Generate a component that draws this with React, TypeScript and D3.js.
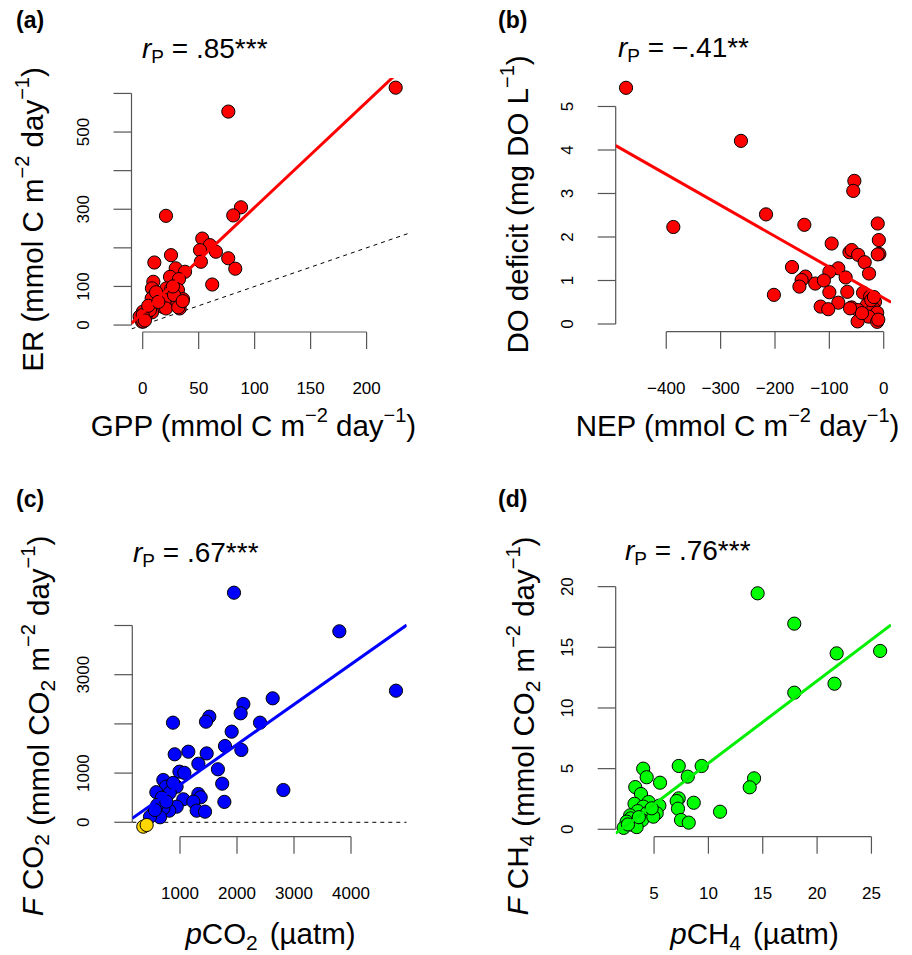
import React from "react";
import * as d3 from "d3";

// ---------- Panel (a): GPP vs ER ----------
const gppA = [226, 76.5, 87.8, 80.9, 20.8, 53.2, 60.1, 51.2, 65.4, 52, 76.4, 82.7, 62.1, 25.3, 10.4, 29.5, 37.8, 24.4, 9.5, 32.4, 8.3, 21.1, 25.5, 31.5, 9.2, 15.2, 22.6, 36, 11.3, 24.1, 30.9, 18.1, 33, 4.7, 0.3, 8.3, -2.7, 1.8, -0.6, 3.2, 19.6, 28, 8, 6.5, 0, 0.5, 20.8, 31.8, 12, 27, 5, 2, 14, 35.7];
const erA = [615, 553, 305, 284, 283, 224, 207, 194, 190, 164, 173, 146, 105, 181, 162, 147, 138, 125, 112, 119, 95, 95, 93, 91, 73, 73, 76, 67, 54, 54, 52, 47, 43, 39, 35, 33, 22, 17, 9, 28, 65, 78, 69, 39, 26, 9, 43, 46, 85, 100, 50, 12, 60, 62];
const fitA = [31.7, 2.73];

// ---------- Panel (b): NEP vs DO deficit ----------
const nepB = [-474, -262.6, -387, -216.5, -146, -202, -54, -56, -11, -9, -8, -11, -95.7, -168.7, -63, -59, -47, -35, -27, -83.5, -100, -70, -144, -151, -155, -126, -110, -100, -67, -38, -25, -31, -16, -83.5, -116, -102, -59, -47, -19, -12, -28, -48, -12, -23, -10, -40, -62, -18];
const doB = [5.43, 4.21, 2.23, 2.52, 2.28, 0.67, 3.29, 3.06, 2.31, 1.93, 1.61, 1.6, 1.85, 1.31, 1.65, 1.7, 1.59, 1.42, 1.16, 1.28, 1.2, 1.07, 1.09, 1.01, 0.86, 0.93, 1.0, 0.73, 0.74, 0.72, 0.63, 0.44, 0.51, 0.49, 0.4, 0.34, 0.38, 0.32, 0.36, 0.26, 0.17, 0.06, 0.05, 0.55, 0.1, 0.25, 0.36, 0.62];
const fitB = [0.595, -0.00711];

// ---------- Panel (c): pCO2 vs F CO2 ----------
const pco2C = [1947, 3795, 4789, 2626, 2111, 2064, 2404, 1514, 1456, 877, 1906, 1789, 2076, 1146, 1468, 907, 1322, 1665, 990, 1076, 1740, 2813, 1778, 707, 940, 754, 585, 1322, 1363, 1058, 1234, 942, 1292, 1439, 812, 707, 532, 649, 474, 820, 680, 880, 600, 760, 560];
const fco2C = [4667, 3882, 2675, 2520, 2404, 2215, 2025, 2147, 2045, 2025, 1842, 1551, 1470, 1435, 1400, 1382, 1190, 1077, 1029, 1005, 785, 656, 415, 860, 724, 724, 612, 575, 508, 467, 419, 317, 236, 216, 236, 284, 183, 102, 114, 600, 500, 800, 350, 420, 250];
const pco2Neg = [356, 415];
const fco2Neg = [-89, -55];
const fitC = [-52, 0.816];

// ---------- Panel (d): pCH4 vs F CH4 ----------
const pch4D = [14.53, 17.9, 21.8, 25.8, 21.6, 17.9, 14.2, 13.8, 11.07, 9.38, 7.27, 8.1, 8.65, 7.27, 7.08, 7.2, 7.48, 8.19, 4.0, 4.32, 5.55, 3.27, 3.8, 3.2, 4.5, 5.49, 5.24, 4.01, 3.5, 2.8, 4.32, 3.9, 2.85, 2.48, 3.09, 2.2, 3.4, 4.93, 4.78, 3.6, 2.6];
const fch4D = [19.45, 16.95, 14.5, 14.7, 12.0, 11.26, 4.2, 3.46, 1.45, 5.22, 5.22, 4.34, 2.19, 2.55, 2.33, 1.7, 0.77, 0.55, 5.0, 4.29, 3.84, 3.48, 2.91, 2.1, 2.25, 1.95, 1.32, 1.87, 1.5, 1.15, 1.32, 0.75, 0.9, 0.63, 0.35, 0.12, 0.18, 1.04, 1.73, 1.0, 0.4];
const fitD = [-1.33, 0.678];

// ---------- Ticks ----------
const xTicksA = [0, 50, 100, 150, 200];
const yTicksA = [0, 100, 200, 300, 400, 500, 600];
const yLabelsA = [0, 100, 300, 500];
const xTicksB = [-400, -300, -200, -100, 0];
const yTicksB = [0, 1, 2, 3, 4, 5];
const yLabelsB = [0, 1, 2, 3, 4, 5];
const xTicksC = [1000, 2000, 3000, 4000];
const yTicksC = [0, 1000, 2000, 3000, 4000];
const yLabelsC = [0, 1000, 3000];
const xTicksD = [5, 10, 15, 20, 25];
const yTicksD = [0, 5, 10, 15, 20];
const yLabelsD = [0, 5, 10, 15, 20];

const FONT = "'Liberation Sans', Arial, Helvetica, sans-serif";
const AXIS = "#555";
const TFS = 29.5; // axis title font size
const SUP = 20;
const SUPDY = 14;
const SUB = 21;

const fmt = (v: number) => (v < 0 ? "\u2212" + Math.abs(v) : String(v));

type PanelProps = {
  id: string;
  xs: number[];
  ys: number[];
  fill: string;
  extraX?: number[];
  extraY?: number[];
  extraFill?: string;
  xDomain: [number, number];
  xRange: [number, number];
  yDomain: [number, number];
  yRange: [number, number];
  xTicks: number[];
  yTicks: number[];
  yLabels: number[];
  fit: number[];
  lineColor: string;
  dashed: "identity" | "zero" | "none";
};

function Panel(p: PanelProps) {
  const x = d3.scaleLinear().domain(p.xDomain).range(p.xRange);
  const y = d3.scaleLinear().domain(p.yDomain).range(p.yRange);
  const left = p.xRange[0];
  const right = p.xRange[1];
  const bottom = p.yRange[0];
  const top = p.yRange[1];
  const [x0, x1] = p.xDomain;
  const lineGen = d3
    .line<number>()
    .x((d) => x(d))
    .y((d) => y(p.fit[0] + p.fit[1] * d));
  const dashGen = d3
    .line<number>()
    .x((d) => x(d))
    .y((d) => y(p.dashed === "identity" ? d : 0));
  const clipId = "clip-" + p.id;
  const yt = p.yTicks;
  const xt = p.xTicks;
  return (
    <g>
      <defs>
        <clipPath id={clipId}>
          <rect x={left} y={top} width={right - left} height={bottom - top} />
        </clipPath>
      </defs>
      {/* y axis */}
      <line x1={left} x2={left} y1={y(yt[0])} y2={y(yt[yt.length - 1])} stroke={AXIS} strokeWidth={1.2} />
      {yt.map((t) => (
        <line key={"yt" + t} x1={left - 18} x2={left} y1={y(t)} y2={y(t)} stroke={AXIS} strokeWidth={1.2} />
      ))}
      {p.yLabels.map((t) => (
        <text
          key={"yl" + t}
          transform={`translate(${left - 43},${y(t)}) rotate(-90)`}
          textAnchor="middle"
          fontSize={17}
          fontFamily={FONT}
          fill="#000"
        >
          {fmt(t)}
        </text>
      ))}
      {/* x axis */}
      <line x1={x(xt[0])} x2={x(xt[xt.length - 1])} y1={bottom} y2={bottom} stroke={AXIS} strokeWidth={1.2} />
      {xt.map((t) => (
        <line key={"xt" + t} x1={x(t)} x2={x(t)} y1={bottom} y2={bottom + 17} stroke={AXIS} strokeWidth={1.2} />
      ))}
      {xt.map((t) => (
        <text key={"xl" + t} x={x(t)} y={bottom + 62} textAnchor="middle" fontSize={17} fontFamily={FONT} fill="#000">
          {fmt(t)}
        </text>
      ))}
      {/* dashed reference */}
      {p.dashed !== "none" ? (
        <path d={dashGen([x0, x1]) || ""} stroke="#000" strokeWidth={1} strokeDasharray="4,4" fill="none" clipPath={`url(#${clipId})`} />
      ) : null}
      {/* points */}
      {p.xs.map((v, i) => (
        <circle key={"p" + i} cx={x(v)} cy={y(p.ys[i])} r={6.6} fill={p.fill} stroke="#000" strokeWidth={1} />
      ))}
      {(p.extraX || []).map((v, i) => (
        <circle key={"e" + i} cx={x(v)} cy={y((p.extraY || [])[i])} r={6.6} fill={p.extraFill} stroke="#000" strokeWidth={1} />
      ))}
      {/* regression line */}
      <path d={lineGen([x0, x1]) || ""} stroke={p.lineColor} strokeWidth={3} fill="none" clipPath={`url(#${clipId})`} />
    </g>
  );
}

function Title({ x, y, value }: { x: number; y: number; value: string }) {
  return (
    <text x={x} y={y} fontSize={28} fontFamily={FONT} fill="#000">
      <tspan fontStyle="italic">r</tspan>
      <tspan fontSize={19} dy={5}>P</tspan>
      <tspan dy={-5}>{" = " + value}</tspan>
    </text>
  );
}

function PanelLabel({ x, y, text }: { x: number; y: number; text: string }) {
  return (
    <text x={x} y={y} fontSize={23} fontWeight="bold" fontFamily={FONT} fill="#000">
      {text}
    </text>
  );
}

function UnitsArea({ co2 }: { co2?: boolean }) {
  return (
    <>
      <tspan>{co2 ? " (mmol CO" : " (mmol C m"}</tspan>
      {co2 ? (
        <>
          <tspan fontSize={SUB} dy={6}>2</tspan>
          <tspan dy={-6}>{" m"}</tspan>
        </>
      ) : null}
      <tspan fontSize={SUP} dy={-SUPDY}>{"\u22122"}</tspan>
      <tspan dy={SUPDY}>{" day"}</tspan>
      <tspan fontSize={SUP} dy={-SUPDY}>{"\u22121"}</tspan>
      <tspan dy={SUPDY}>)</tspan>
    </>
  );
}

export default function App() {
  return (
    <svg
      width={912}
      height={955}
      viewBox="0 0 912 955"
      style={{ position: "absolute", left: 0, top: 0, display: "block", background: "#fff" }}
    >
      <rect x={0} y={0} width={912} height={955} fill="#fff" />

      {/* ---------------- (a) ---------------- */}
      <Panel
        id="a"
        xs={gppA}
        ys={erA}
        fill="#ff0000"
        xDomain={[-10, 237]}
        xRange={[131.5, 408]}
        yDomain={[-18, 640]}
        yRange={[332, 78]}
        xTicks={xTicksA}
        yTicks={yTicksA}
        yLabels={yLabelsA}
        fit={fitA}
        lineColor="#ff0000"
        dashed="identity"
      />
      <PanelLabel x={16} y={28} text="(a)" />
      <Title x={142} y={58} value=".85***" />
      <text x={253.5} y={436} textAnchor="middle" fontSize={TFS} fontFamily={FONT} fill="#000">
        <tspan>GPP</tspan>
        <UnitsArea />
      </text>
      <text transform="translate(43,219.5) rotate(-90)" textAnchor="middle" fontSize={TFS} fontFamily={FONT} fill="#000">
        <tspan>ER</tspan>
        <UnitsArea />
      </text>

      {/* ---------------- (b) ---------------- */}
      <Panel
        id="b"
        xs={nepB}
        ys={doB}
        fill="#ff0000"
        xDomain={[-493, 13.4]}
        xRange={[615.7, 891]}
        yDomain={[-0.177, 5.655]}
        yRange={[331.7, 78]}
        xTicks={xTicksB}
        yTicks={yTicksB}
        yLabels={yLabelsB}
        fit={fitB}
        lineColor="#ff0000"
        dashed="none"
      />
      <PanelLabel x={498} y={28} text="(b)" />
      <Title x={618} y={57} value={"\u2212.41**"} />
      <text x={737.5} y={436} textAnchor="middle" fontSize={TFS} fontFamily={FONT} fill="#000">
        <tspan>NEP</tspan>
        <UnitsArea />
      </text>
      <text transform="translate(528,204.5) rotate(-90)" textAnchor="middle" fontSize={TFS} fontFamily={FONT} fill="#000">
        <tspan>DO deficit (mg DO L</tspan>
        <tspan fontSize={SUP} dy={-SUPDY}>{"\u22121"}</tspan>
        <tspan dy={SUPDY}>)</tspan>
      </text>

      {/* ---------------- (c) ---------------- */}
      <Panel
        id="c"
        xs={pco2C}
        ys={fco2C}
        fill="#0000ff"
        extraX={pco2Neg}
        extraY={fco2Neg}
        extraFill="#ffd700"
        xDomain={[163, 4977]}
        xRange={[132.3, 406.7]}
        yDomain={[-293, 4864]}
        yRange={[836.7, 583]}
        xTicks={xTicksC}
        yTicks={yTicksC}
        yLabels={yLabelsC}
        fit={fitC}
        lineColor="#0000ff"
        dashed="zero"
      />
      <PanelLabel x={16} y={507} text="(c)" />
      <Title x={133} y={562} value=".67***" />
      <text x={270.5} y={944} textAnchor="middle" fontSize={TFS} fontFamily={FONT} fill="#000">
        <tspan fontStyle="italic">p</tspan>
        <tspan>CO</tspan>
        <tspan fontSize={SUB} dy={6}>2</tspan>
        <tspan dy={-6} dx={12}>(µatm)</tspan>
      </text>
      <text transform="translate(43,726) rotate(-90)" textAnchor="middle" fontSize={TFS} fontFamily={FONT} fill="#000">
        <tspan fontStyle="italic">F</tspan>
        <tspan>{" CO"}</tspan>
        <tspan fontSize={SUB} dy={6}>2</tspan>
        <tspan dy={-6}>{""}</tspan>
        <UnitsArea co2 />
      </text>

      {/* ---------------- (d) ---------------- */}
      <Panel
        id="d"
        xs={pch4D}
        ys={fch4D}
        fill="#00ff00"
        xDomain={[1.47, 26.8]}
        xRange={[615.7, 891]}
        yDomain={[-0.61, 20.3]}
        yRange={[836.7, 583]}
        xTicks={xTicksD}
        yTicks={yTicksD}
        yLabels={yLabelsD}
        fit={fitD}
        lineColor="#00ee00"
        dashed="none"
      />
      <PanelLabel x={498} y={507} text="(d)" />
      <Title x={625} y={560} value=".76***" />
      <text x={754.5} y={944} textAnchor="middle" fontSize={TFS} fontFamily={FONT} fill="#000">
        <tspan fontStyle="italic">p</tspan>
        <tspan>CH</tspan>
        <tspan fontSize={SUB} dy={6}>4</tspan>
        <tspan dy={-6} dx={12}>(µatm)</tspan>
      </text>
      <text transform="translate(528,726) rotate(-90)" textAnchor="middle" fontSize={TFS} fontFamily={FONT} fill="#000">
        <tspan fontStyle="italic">F</tspan>
        <tspan>{" CH"}</tspan>
        <tspan fontSize={SUB} dy={6}>4</tspan>
        <tspan dy={-6}>{""}</tspan>
        <UnitsArea co2 />
      </text>
    </svg>
  );
}
